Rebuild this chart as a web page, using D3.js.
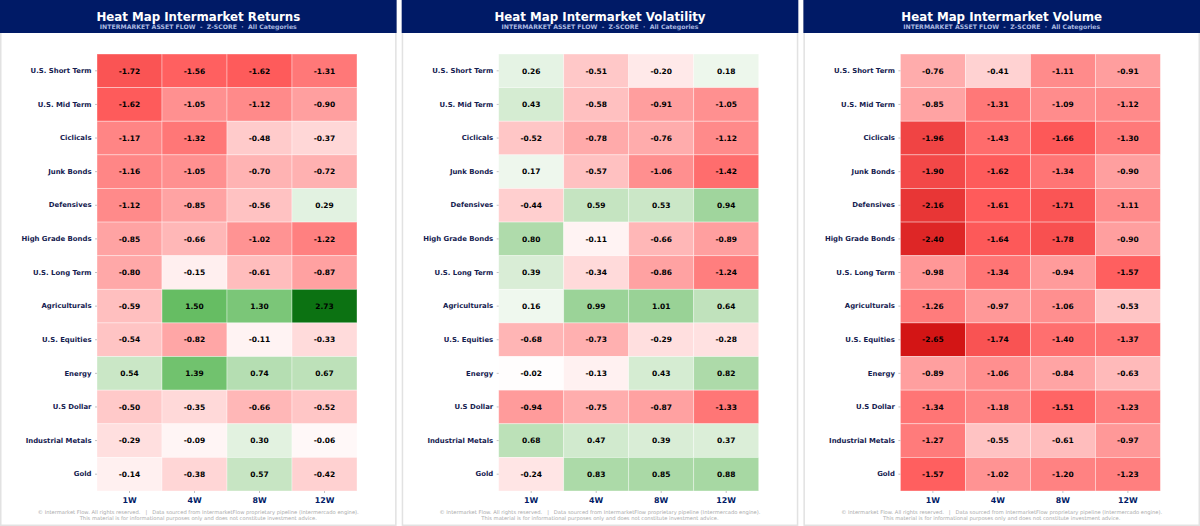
<!DOCTYPE html>
<html>
<head>
<meta charset="utf-8">
<script src="https://cdn.jsdelivr.net/npm/d3@7"></script>
<style>
  html, body { margin: 0; padding: 0; background: #fff; }
  svg { display: block; font-family: "DejaVu Sans", sans-serif; }
</style>
</head>
<body>
<div id="chart"></div>
<script>
// Row and column labels, shared by the three panels
var categories = ["U.S. Short Term", "U.S. Mid Term", "Ciclicals", "Junk Bonds", "Defensives",
  "High Grade Bonds", "U.S. Long Term", "Agriculturals", "U.S. Equities", "Energy",
  "U.S Dollar", "Industrial Metals", "Gold"];
var periods = ["1W", "4W", "8W", "12W"];

var titles = ["Heat Map Intermarket Returns", "Heat Map Intermarket Volatility", "Heat Map Intermarket Volume"];

// z-scores, one row per category
var returnsValues = [
  [-1.72, -1.56, -1.62, -1.31],
  [-1.62, -1.05, -1.12, -0.90],
  [-1.17, -1.32, -0.48, -0.37],
  [-1.16, -1.05, -0.70, -0.72],
  [-1.12, -0.85, -0.56, 0.29],
  [-0.85, -0.66, -1.02, -1.22],
  [-0.80, -0.15, -0.61, -0.87],
  [-0.59, 1.50, 1.30, 2.73],
  [-0.54, -0.82, -0.11, -0.33],
  [0.54, 1.39, 0.74, 0.67],
  [-0.50, -0.35, -0.66, -0.52],
  [-0.29, -0.09, 0.30, -0.06],
  [-0.14, -0.38, 0.57, -0.42]
];
var volatilityValues = [
  [0.26, -0.51, -0.20, 0.18],
  [0.43, -0.58, -0.91, -1.05],
  [-0.52, -0.78, -0.76, -1.12],
  [0.17, -0.57, -1.06, -1.42],
  [-0.44, 0.59, 0.53, 0.94],
  [0.80, -0.11, -0.66, -0.89],
  [0.39, -0.34, -0.86, -1.24],
  [0.16, 0.99, 1.01, 0.64],
  [-0.68, -0.73, -0.29, -0.28],
  [-0.02, -0.13, 0.43, 0.82],
  [-0.94, -0.75, -0.87, -1.33],
  [0.68, 0.47, 0.39, 0.37],
  [-0.24, 0.83, 0.85, 0.88]
];
var volumeValues = [
  [-0.76, -0.41, -1.11, -0.91],
  [-0.85, -1.31, -1.09, -1.12],
  [-1.96, -1.43, -1.66, -1.30],
  [-1.90, -1.62, -1.34, -0.90],
  [-2.16, -1.61, -1.71, -1.11],
  [-2.40, -1.64, -1.78, -0.90],
  [-0.98, -1.34, -0.94, -1.57],
  [-1.26, -0.97, -1.06, -0.53],
  [-2.65, -1.74, -1.40, -1.37],
  [-0.89, -1.06, -0.84, -0.63],
  [-1.34, -1.18, -1.51, -1.23],
  [-1.27, -0.55, -0.61, -0.97],
  [-1.57, -1.02, -1.20, -1.23]
];
var panelValues = [returnsValues, volatilityValues, volumeValues];

var svgWidth = 1200;
var svgHeight = 526;
var panelLefts = [0, 401.7, 803.4];
var panelWidth = 396.6;
var headerHeight = 33;
var gridMargin = { left: 97, right: 39.6, top: 54, bottom: 35 };

var color = d3.scaleLinear()
  .domain([-2.73, -1.6, -0.8, 0, 0.6, 1.5, 2.73])
  .range(["#d01010", "#ff5c5c", "#ffa8a8", "#ffffff", "#c4e4c0", "#66bd63", "#0c7212"]);

var svg = d3.select("#chart").append("svg")
  .attr("width", svgWidth)
  .attr("height", svgHeight);

svg.append("rect").attr("width", svgWidth).attr("height", svgHeight).attr("fill", "#ffffff");

panelLefts.forEach(function(left, p) {
  var panel = svg.append("g").attr("transform", "translate(" + left + ",0)");

  // frame, then header band
  panel.append("rect")
    .attr("x", 0.75).attr("y", 0.75)
    .attr("width", panelWidth - 1.5).attr("height", svgHeight - 1.5)
    .attr("fill", "#ffffff").attr("stroke", "#e2e2e2").attr("stroke-width", 1.5);
  panel.append("rect")
    .attr("width", panelWidth).attr("height", headerHeight)
    .attr("fill", "#001a66");

  panel.append("text")
    .attr("x", panelWidth / 2).attr("y", 20.5)
    .attr("text-anchor", "middle")
    .attr("font-size", 11.8).attr("font-weight", "bold").attr("fill", "#ffffff")
    .text(titles[p]);
  panel.append("text")
    .attr("x", panelWidth / 2).attr("y", 29.2)
    .attr("text-anchor", "middle")
    .attr("font-size", 6.2).attr("font-weight", "bold").attr("fill", "#aab8e0")
    .attr("xml:space", "preserve")
    .text("INTERMARKET ASSET FLOW  -  Z-SCORE  ·  All Categories");

  var x = d3.scaleBand().domain(periods).range([gridMargin.left, panelWidth - gridMargin.right]);
  var y = d3.scaleBand().domain(categories).range([gridMargin.top, svgHeight - gridMargin.bottom]);

  var rows = panelValues[p].flatMap(function(row, i) {
    return row.map(function(v, j) {
      return { category: categories[i], period: periods[j], value: v };
    });
  });

  panel.append("g").selectAll("rect")
    .data(rows)
    .enter().append("rect")
    .attr("x", function(d) { return x(d.period); })
    .attr("y", function(d) { return y(d.category); })
    .attr("width", x.bandwidth())
    .attr("height", y.bandwidth())
    .attr("fill", function(d) { return color(d.value); })
    .attr("stroke", "#ffffff")
    .attr("stroke-opacity", 0.45)
    .attr("stroke-width", 0.8);

  panel.append("g").selectAll("text")
    .data(rows)
    .enter().append("text")
    .attr("x", function(d) { return x(d.period) + x.bandwidth() / 2; })
    .attr("y", function(d) { return y(d.category) + y.bandwidth() / 2; })
    .attr("dy", "0.36em")
    .attr("text-anchor", "middle")
    .attr("font-size", 7.5).attr("font-weight", "bold").attr("fill", "#000000")
    .text(function(d) { return d.value.toFixed(2); });

  // axes
  var leftAxis = panel.append("g")
    .attr("transform", "translate(" + gridMargin.left + ",0)")
    .call(d3.axisLeft(y).tickSize(2).tickPadding(3.5));
  leftAxis.select(".domain").remove();
  leftAxis.selectAll("line").attr("stroke", "#999999").attr("stroke-width", 0.6);
  leftAxis.selectAll("text")
    .attr("font-family", "DejaVu Sans").attr("font-size", 6.9).attr("font-weight", "bold").attr("fill", "#14204f");

  var bottomAxis = panel.append("g")
    .attr("transform", "translate(0," + (svgHeight - gridMargin.bottom) + ")")
    .call(d3.axisBottom(x).tickSize(2).tickPadding(4.5));
  bottomAxis.select(".domain").remove();
  bottomAxis.selectAll("line").attr("stroke", "#999999").attr("stroke-width", 0.6);
  bottomAxis.selectAll("text")
    .attr("font-family", "DejaVu Sans").attr("font-size", 7.9).attr("font-weight", "bold").attr("fill", "#001a66");

  // footer
  panel.append("text")
    .attr("x", panelWidth / 2).attr("y", 514)
    .attr("text-anchor", "middle")
    .attr("font-size", 5.2).attr("fill", "#aaaaaa")
    .attr("xml:space", "preserve")
    .text("© Intermarket Flow. All rights reserved.   |   Data sourced from IntermarketFlow proprietary pipeline (Intermercado engine).");
  panel.append("text")
    .attr("x", panelWidth / 2).attr("y", 520)
    .attr("text-anchor", "middle")
    .attr("font-size", 5.2).attr("fill", "#aaaaaa")
    .text("This material is for informational purposes only and does not constitute investment advice.");
});
</script>
</body>
</html>
